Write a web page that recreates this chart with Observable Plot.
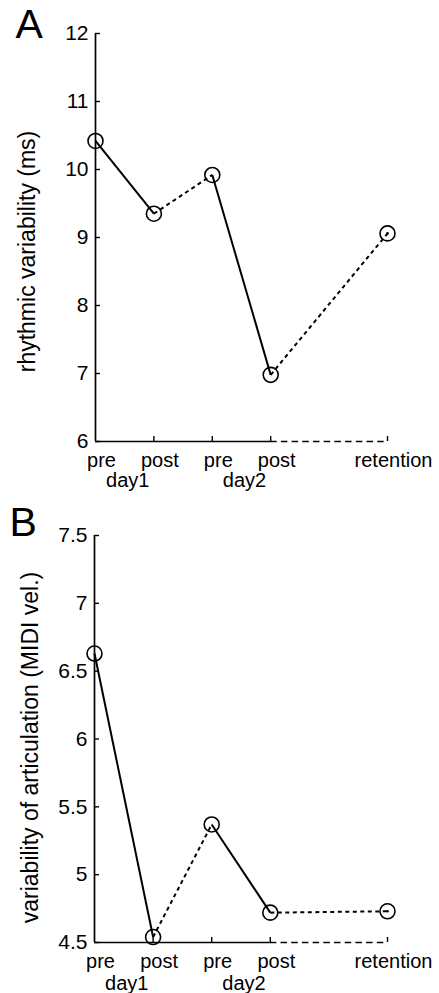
<!DOCTYPE html>
<html><head><meta charset="utf-8">
<script src="https://cdn.jsdelivr.net/npm/d3@7"></script>
<script src="https://cdn.jsdelivr.net/npm/@observablehq/plot@0.6"></script>
<style>body{margin:0;background:#fff} #chart svg{display:block}</style>
</head><body><div id="chart"></div>
<script>
const sessions = ["pre", "post", "pre", "post", "retention"];
const sessionPos = [0, 1, 2, 3, 5];
const dayLabels = ["day1", "day2"];
const dayPos = [0.5, 2.5];
const rhythmic = [10.42, 9.35, 9.92, 6.98, 9.06];
const articulation = [6.63, 4.54, 5.37, 4.72, 4.73];
const segmentDashed = [false, true, false, true];
const ticksA = [6, 7, 8, 9, 10, 11, 12];
const ticksB = [4.5, 5, 5.5, 6, 6.5, 7, 7.5];

function panel({letter, values, yTicks, yLabel, height, marginTop, marginBottom, marginLeft, labelDx, labelDy, letterDx, letterDy, dayDy}) {
  const yMin = yTicks[0], yMax = yTicks[yTicks.length - 1];
  const pts = values.map((v, i) => ({x: sessionPos[i], y: v}));
  const segs = segmentDashed.map((d, i) => ({x1: pts[i].x, y1: pts[i].y, x2: pts[i + 1].x, y2: pts[i + 1].y, dashed: d}));
  const lastSolid = sessionPos[3];
  return Plot.plot({
    width: 439,
    height,
    marginTop, marginBottom, marginLeft, marginRight: 52,
    style: {fontFamily: "Liberation Sans, Arial, sans-serif", background: "white", color: "black"},
    x: {domain: [sessionPos[0], sessionPos[sessionPos.length - 1]], axis: null},
    y: {domain: [yMin, yMax], axis: null},
    marks: [
      // axes
      Plot.ruleX([sessionPos[0]], {y1: yMin, y2: yMax, stroke: "black", strokeWidth: 1.7}),
      Plot.ruleY([yMin], {x1: sessionPos[0], x2: lastSolid, stroke: "black", strokeWidth: 1.7}),
      Plot.ruleY([yMin], {x1: lastSolid, x2: sessionPos[4], stroke: "black", strokeWidth: 1.7, strokeDasharray: "6.5,4.2"}),
      Plot.ruleY(yTicks, {y: d => d, x1: sessionPos[0], x2: sessionPos[0], insetRight: -5, stroke: "black", strokeWidth: 1.4}),
      Plot.ruleX(sessionPos.slice(1), {x: d => d, y1: yMin, y2: yMin, insetTop: -5, stroke: "black", strokeWidth: 1.4}),
      // tick labels
      Plot.text(yTicks, {x: sessionPos[0], y: d => d, text: d => String(d), dx: -7, textAnchor: "end", fontSize: 21, fill: "black"}),
      Plot.text(sessions, {x: sessionPos, y: yMin, text: d => d, dx: 6, dy: 25, lineAnchor: "bottom", fontSize: 20, fill: "black"}),
      Plot.text(dayLabels, {x: dayPos, y: yMin, text: d => d, dx: 3, dy: dayDy, lineAnchor: "bottom", fontSize: 20, fill: "black"}),
      Plot.text([yLabel], {frameAnchor: "left", rotate: -90, textAnchor: "middle", lineAnchor: "middle", dx: labelDx, dy: labelDy, fontSize: 23, fill: "black"}),
      Plot.text([letter], {frameAnchor: "top-left", dx: letterDx, dy: letterDy, lineAnchor: "bottom", textAnchor: "start", fontSize: 41, fill: "black"}),
      // data
      Plot.link(segs.filter(d => !d.dashed), {x1: "x1", y1: "y1", x2: "x2", y2: "y2", stroke: "black", strokeWidth: 2}),
      Plot.link(segs.filter(d => d.dashed), {x1: "x1", y1: "y1", x2: "x2", y2: "y2", stroke: "black", strokeWidth: 2, strokeDasharray: "4,3.5"}),
      Plot.dot(pts, {x: "x", y: "y", r: 7.5, stroke: "black", strokeWidth: 1.6, fill: "none"}),
      Plot.dot(pts.slice(-1), {x: "x", y: "y", r: 1.3, fill: "black"})
    ]
  });
}

const chart = document.getElementById("chart");
chart.append(panel({
  letter: "A", values: rhythmic, yTicks: ticksA, yLabel: "rhythmic variability (ms)",
  height: 496, marginTop: 33, marginBottom: 55, marginLeft: 95,
  labelDx: -68, labelDy: 14, letterDx: -80, letterDy: 4, dayDy: 45
}));
chart.append(panel({
  letter: "B", values: articulation, yTicks: ticksB, yLabel: "variability of articulation (MIDI vel.)",
  height: 497, marginTop: 39, marginBottom: 51, marginLeft: 94,
  labelDx: -64, labelDy: 8.5, letterDx: -85, letterDy: 0, dayDy: 47
}));
</script>
</body></html>
